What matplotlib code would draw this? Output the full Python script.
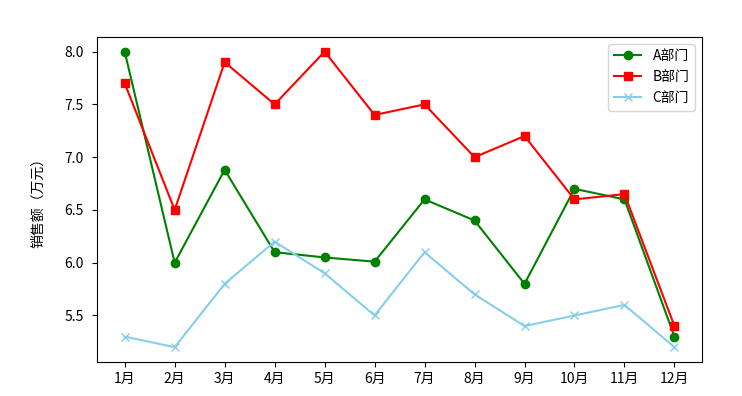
import matplotlib
matplotlib.use('Agg')
import matplotlib.pyplot as plt

plt.rcParams['font.family'] = ['Noto Sans CJK SC', 'DejaVu Sans']
plt.rcParams['axes.unicode_minus'] = False

# %% Données
mois = ['1月', '2月', '3月', '4月', '5月', '6月', '7月', '8月', '9月', '10月', '11月', '12月']
ventes_A = [8.0, 6.0, 6.88, 6.1, 6.05, 6.01, 6.6, 6.4, 5.8, 6.7, 6.6, 5.3]
ventes_B = [7.7, 6.5, 7.9, 7.5, 8.0, 7.4, 7.5, 7.0, 7.2, 6.6, 6.65, 5.4]
ventes_C = [5.3, 5.2, 5.8, 6.2, 5.9, 5.5, 6.1, 5.7, 5.4, 5.5, 5.6, 5.2]

# %% Tracé
fig = plt.figure(figsize=(7.42, 3.96), dpi=100)
ax = fig.add_axes([0.131, 0.086, 0.815, 0.821])

ax.plot(mois, ventes_A, marker='o', color='green', label='A部门')
ax.plot(mois, ventes_B, marker='s', color='red', label='B部门')
ax.plot(mois, ventes_C, marker='x', color='skyblue', label='C部门')

ax.set_ylabel('销售额（万元）', labelpad=14)
ax.tick_params(axis='y', pad=6)
ax.legend(loc=1)

fig.savefig('out.png')
